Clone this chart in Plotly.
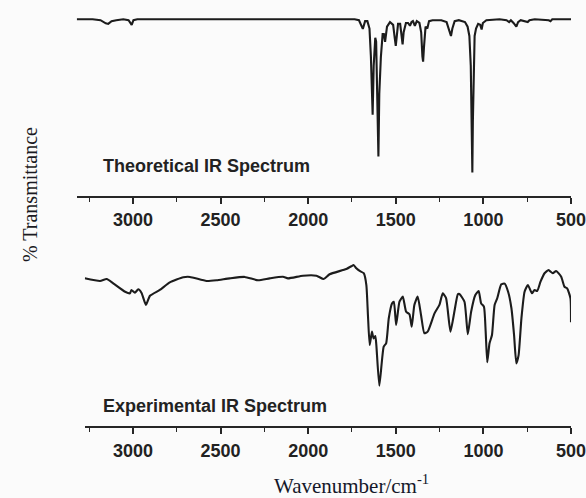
import plotly.graph_objects as go

# ---------------- data ----------------
theo_wn = [3320, 3230, 3185, 3170, 3155, 3141, 3122, 3095, 3055, 3025, 3007, 2997, 2975,
           1735, 1710, 1688, 1675, 1662, 1650, 1642, 1632, 1626, 1617, 1612, 1606, 1599,
           1594, 1585, 1575, 1568, 1561, 1550, 1533, 1515, 1506, 1500, 1494, 1487, 1475,
           1467, 1461, 1455, 1442, 1430, 1419, 1410, 1402, 1391, 1380, 1365, 1355, 1348,
           1344, 1339, 1330, 1320, 1310, 1290, 1240, 1210, 1195, 1185, 1177, 1164, 1140,
           1105, 1090, 1080, 1072, 1067, 1063, 1060, 1055, 1050, 1042, 1030, 1018, 1010,
           1003, 983, 908, 868, 853, 843, 828, 812, 802, 787, 747, 737, 707, 627, 617, 607, 500]
theo_t = [95, 95, 94.5, 93.5, 92.8, 92.5, 94, 94.5, 95, 94.5, 92, 94.5, 95,
          95, 94.5, 89.8, 94, 94, 90, 75, 43.5, 70, 85, 83, 60, 21,
          55, 74.7, 87, 87, 82.8, 91, 93.5, 92, 85, 80.6, 86, 92.5, 92.5,
          86, 81.5, 88, 93, 93, 91.5, 93.5, 94, 91.5, 94, 93, 88, 75,
          72.2, 80, 91, 90, 94, 94.5, 94.5, 93.5, 89, 86, 90, 94, 94.5,
          93.5, 91, 86, 70, 40, 12.4, 40, 75, 86, 90, 92.5, 92, 89.5,
          93, 94.5, 95, 94.5, 93.5, 94.5, 93, 91, 93.5, 94.5, 93.5, 94.5, 95, 94.5, 94, 95, 95]

exp_wn = [3275, 3188, 3150, 3113, 3045, 3017, 3009, 2989, 2970, 2951, 2926, 2903, 2847,
          2790, 2713, 2675, 2580, 2523, 2448, 2362, 2286, 2220, 2144, 2115, 2030, 1953,
          1912, 1878, 1783, 1750, 1741, 1725, 1706, 1683, 1668, 1659, 1649, 1636, 1627,
          1617, 1611, 1594, 1569, 1555, 1540, 1521, 1511, 1498, 1479, 1460, 1441, 1422,
          1409, 1394, 1375, 1356, 1337, 1318, 1279, 1251, 1232, 1213, 1188, 1165, 1146,
          1137, 1108, 1089, 1070, 1046, 1027, 1013, 997, 987, 978, 965, 951, 936, 921,
          898, 879, 859, 840, 825, 812, 799, 783, 765, 746, 723, 708, 693, 674, 651, 628,
          604, 585, 556, 537, 522, 503, 500]
exp_t = [83.9, 82.4, 83.5, 81.1, 76.3, 75.4, 77.3, 75.7, 77.7, 75.6, 68.8, 74.0, 77.3,
         81.6, 84.5, 84.7, 82.4, 82.8, 83.9, 84.7, 82.8, 83.9, 84.8, 83.9, 85.4, 85.4,
         83.5, 86.2, 89.2, 91.0, 91.5, 89.6, 88.1, 86.8, 80.1, 63.1, 46.0, 53.6, 49.8,
         51.1, 46.0, 22.9, 45.1, 47.0, 61.2, 69.7, 70.6, 57.4, 70.6, 73.5, 64.9, 63.5,
         56.4, 68.8, 73.5, 63.1, 52.7, 53.6, 64.0, 68.8, 75.4, 72.6, 53.6, 65.3, 74.8,
         75.0, 70.6, 52.1, 64.9, 74.4, 76.7, 69.7, 67.8, 53.6, 36.2, 47.0, 51.7, 68.8, 72.6,
         80.5, 80.9, 76.3, 66.9, 51.7, 35.6, 40.3, 61.2, 76.3, 80.1, 75.4, 77.3, 76.7, 82.0, 86.8, 88.6,
         86.8, 88.1, 84.8, 79.1, 78.2, 72.6, 59.0]

tick_vals = [3000, 2500, 2000, 1500, 1000, 500]
tick_text = ["3000", "2500", "2000", "1500", "1000", "500"]
panel_labels = ["Theoretical IR Spectrum", "Experimental IR Spectrum"]
x_title = "Wavenumber/cm<sup>-1</sup>"
y_title = "% Transmittance"

# ---------------- figure ----------------
W, H = 586, 498
line_col = "#1c1c1c"
fig = go.Figure()
fig.add_trace(go.Scatter(x=theo_wn, y=theo_t, mode="lines", xaxis="x", yaxis="y",
                         line=dict(color=line_col, width=2.1), showlegend=False, hoverinfo="skip"))
fig.add_trace(go.Scatter(x=exp_wn, y=exp_t, mode="lines", xaxis="x2", yaxis="y2",
                         line=dict(color=line_col, width=2.1, shape="spline", smoothing=0.5),
                         showlegend=False, hoverinfo="skip"))

tickfont = dict(family="Liberation Sans, Arial, sans-serif", size=18, color="#222222", weight="bold")
common_x = dict(showline=True, linewidth=2, linecolor="#262626", ticks="outside", ticklen=6,
                tickwidth=1.6, tickcolor="#262626", tickvals=tick_vals, ticktext=tick_text,
                tickfont=tickfont, showgrid=False, zeroline=False, ticklabelstandoff=1,
                ticklabeloverflow="allow",
                minor=dict(dtick=250, tick0=0, ticks="outside", ticklen=4, tickwidth=1.4,
                           tickcolor="#262626", showgrid=False))
hidden_y = dict(range=[0, 100], visible=False, showline=False, showticklabels=False, ticks="",
                showgrid=False, zeroline=False, fixedrange=True)

label_font = dict(family="Liberation Sans, Arial, sans-serif", size=18, color="#222", weight="bold")

fig.update_layout(
    template="none",
    width=W, height=H, margin=dict(l=0, r=0, t=0, b=0),
    paper_bgcolor="#fbfbfb", plot_bgcolor="rgba(0,0,0,0)",
    xaxis=dict(domain=[76.5 / W, 571 / W], range=[3322, 500], anchor="y", **common_x),
    yaxis=dict(domain=[1 - 195.5 / H, 1 - 10 / H], anchor="x", **hidden_y),
    xaxis2=dict(domain=[84.8 / W, 571 / W], range=[3275, 500], anchor="y2", **common_x),
    yaxis2=dict(domain=[1 - 426 / H, 1 - 250 / H], anchor="x2", **hidden_y),
    annotations=[
        dict(text=panel_labels[0], xref="paper", yref="paper", x=101 / W, y=1 - 166 / H,
             xanchor="left", yanchor="middle", showarrow=False, font=label_font),
        dict(text=panel_labels[1], xref="paper", yref="paper", x=101 / W, y=1 - 406 / H,
             xanchor="left", yanchor="middle", showarrow=False, font=label_font),
        dict(text=x_title, xref="paper", yref="paper", x=351 / W, y=1 - 484 / H,
             xanchor="center", yanchor="middle", showarrow=False,
             font=dict(family="Liberation Serif, Times New Roman, serif", size=21, color="#15182a")),
        dict(text=y_title, xref="paper", yref="paper", x=30 / W, y=1 - 195 / H, textangle=-90,
             xanchor="center", yanchor="middle", showarrow=False,
             font=dict(family="Liberation Serif, Times New Roman, serif", size=20, color="#1a1a22")),
    ],
)

fig.write_html("out.html")
